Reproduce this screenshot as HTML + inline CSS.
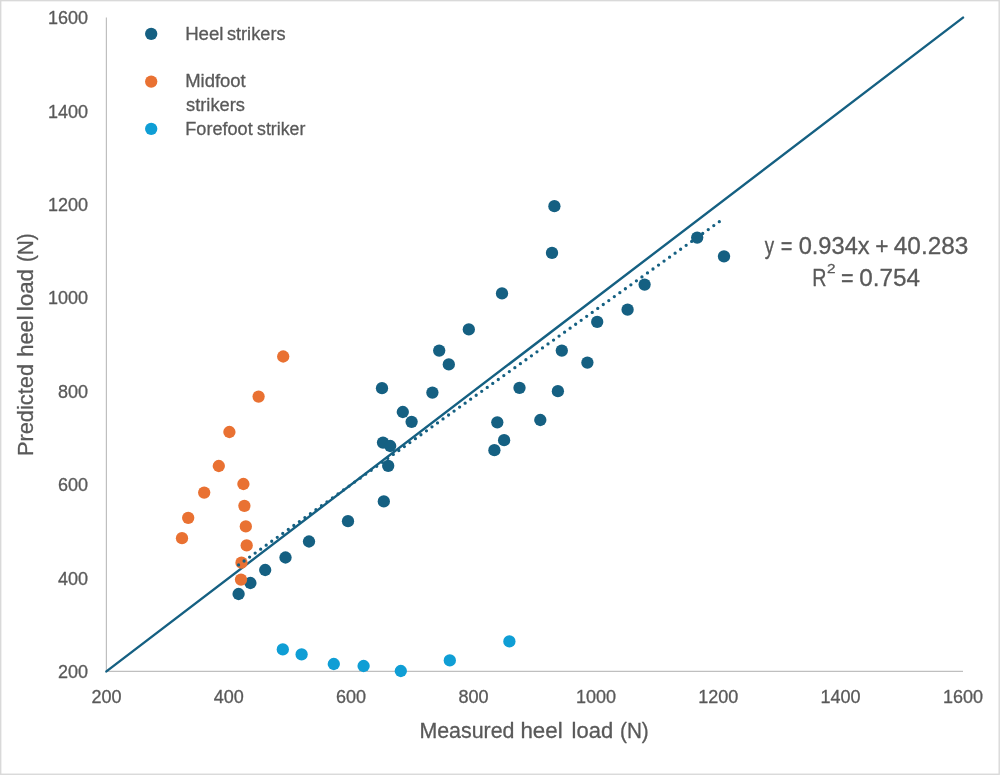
<!DOCTYPE html>
<html lang="en">
<head>
<meta charset="utf-8">
<title>Predicted vs measured heel load</title>
<style>
html,body{margin:0;padding:0;background:#fff;}
body{width:1000px;height:775px;overflow:hidden;}
svg{display:block;}
text{font-family:"Liberation Sans",sans-serif;fill:#595959;stroke:#595959;stroke-width:0.3px;stroke-linejoin:round;}
.tick{font-size:18px;}
.leg{font-size:18.7px;}
.ttl{font-size:21.6px;}
.eq{font-size:24.4px;}
</style>
</head>
<body>
<svg width="1000" height="775" viewBox="0 0 1000 775">
<rect x="0" y="0" width="1000" height="775" fill="#ffffff"/>
<rect x="0.7" y="0.65" width="998.5" height="773.6" fill="none" stroke="#D9D9D9" stroke-width="1.4"/>

<line x1="106.4" y1="17.6" x2="106.4" y2="671.4" stroke="#BFBFBF" stroke-width="1.2"/>
<line x1="106.4" y1="671.4" x2="963.0" y2="671.4" stroke="#BFBFBF" stroke-width="1.2"/>
<text class="tick" x="88.0" y="677.9" text-anchor="end">200</text>
<text class="tick" x="88.0" y="584.5" text-anchor="end">400</text>
<text class="tick" x="88.0" y="491.1" text-anchor="end">600</text>
<text class="tick" x="88.0" y="397.7" text-anchor="end">800</text>
<text class="tick" x="88.0" y="304.3" text-anchor="end">1000</text>
<text class="tick" x="88.0" y="210.9" text-anchor="end">1200</text>
<text class="tick" x="88.0" y="117.5" text-anchor="end">1400</text>
<text class="tick" x="88.0" y="24.1" text-anchor="end">1600</text>
<text class="tick" x="106.4" y="703.4" text-anchor="middle">200</text>
<text class="tick" x="228.8" y="703.4" text-anchor="middle">400</text>
<text class="tick" x="351.1" y="703.4" text-anchor="middle">600</text>
<text class="tick" x="473.5" y="703.4" text-anchor="middle">800</text>
<text class="tick" x="595.9" y="703.4" text-anchor="middle">1000</text>
<text class="tick" x="718.3" y="703.4" text-anchor="middle">1200</text>
<text class="tick" x="840.6" y="703.4" text-anchor="middle">1400</text>
<text class="tick" x="963.0" y="703.4" text-anchor="middle">1600</text>
<line x1="106.4" y1="671.4" x2="963.0" y2="17.6" stroke="#156082" stroke-width="2.4" stroke-linecap="round"/>
<g id="heel"><circle cx="238.6" cy="594.0" r="6.15" fill="#156082"/>
<circle cx="250.4" cy="583.0" r="6.15" fill="#156082"/>
<circle cx="265.2" cy="570.0" r="6.15" fill="#156082"/>
<circle cx="285.5" cy="557.5" r="6.15" fill="#156082"/>
<circle cx="309.0" cy="541.5" r="6.15" fill="#156082"/>
<circle cx="348.0" cy="521.2" r="6.15" fill="#156082"/>
<circle cx="383.8" cy="501.4" r="6.15" fill="#156082"/>
<circle cx="388.2" cy="465.8" r="6.15" fill="#156082"/>
<circle cx="383.0" cy="442.6" r="6.15" fill="#156082"/>
<circle cx="390.2" cy="446.0" r="6.15" fill="#156082"/>
<circle cx="382.0" cy="388.2" r="6.15" fill="#156082"/>
<circle cx="402.8" cy="412.0" r="6.15" fill="#156082"/>
<circle cx="411.6" cy="421.8" r="6.15" fill="#156082"/>
<circle cx="432.4" cy="392.6" r="6.15" fill="#156082"/>
<circle cx="439.2" cy="350.6" r="6.15" fill="#156082"/>
<circle cx="448.8" cy="364.4" r="6.15" fill="#156082"/>
<circle cx="468.8" cy="329.4" r="6.15" fill="#156082"/>
<circle cx="502.0" cy="293.4" r="6.15" fill="#156082"/>
<circle cx="552.0" cy="252.8" r="6.15" fill="#156082"/>
<circle cx="554.4" cy="206.2" r="6.15" fill="#156082"/>
<circle cx="494.4" cy="450.2" r="6.15" fill="#156082"/>
<circle cx="497.3" cy="422.3" r="6.15" fill="#156082"/>
<circle cx="504.1" cy="440.2" r="6.15" fill="#156082"/>
<circle cx="519.5" cy="387.8" r="6.15" fill="#156082"/>
<circle cx="540.3" cy="420.0" r="6.15" fill="#156082"/>
<circle cx="557.9" cy="391.2" r="6.15" fill="#156082"/>
<circle cx="561.8" cy="350.6" r="6.15" fill="#156082"/>
<circle cx="587.4" cy="362.6" r="6.15" fill="#156082"/>
<circle cx="597.2" cy="321.9" r="6.15" fill="#156082"/>
<circle cx="627.6" cy="309.7" r="6.15" fill="#156082"/>
<circle cx="644.6" cy="284.6" r="6.15" fill="#156082"/>
<circle cx="697.2" cy="237.6" r="6.15" fill="#156082"/>
<circle cx="724.0" cy="256.4" r="6.15" fill="#156082"/></g>
<g id="midfoot"><circle cx="283.2" cy="356.5" r="6.15" fill="#E97132"/>
<circle cx="258.6" cy="396.6" r="6.15" fill="#E97132"/>
<circle cx="229.4" cy="432.0" r="6.15" fill="#E97132"/>
<circle cx="218.8" cy="466.0" r="6.15" fill="#E97132"/>
<circle cx="204.2" cy="492.6" r="6.15" fill="#E97132"/>
<circle cx="188.2" cy="517.8" r="6.15" fill="#E97132"/>
<circle cx="182.0" cy="538.2" r="6.15" fill="#E97132"/>
<circle cx="243.4" cy="484.0" r="6.15" fill="#E97132"/>
<circle cx="244.4" cy="505.8" r="6.15" fill="#E97132"/>
<circle cx="245.8" cy="526.4" r="6.15" fill="#E97132"/>
<circle cx="246.7" cy="545.4" r="6.15" fill="#E97132"/>
<circle cx="241.5" cy="562.7" r="6.15" fill="#E97132"/>
<circle cx="241.0" cy="579.6" r="6.15" fill="#E97132"/></g>
<g id="forefoot"><circle cx="282.8" cy="649.4" r="6.15" fill="#0F9ED5"/>
<circle cx="301.6" cy="654.4" r="6.15" fill="#0F9ED5"/>
<circle cx="333.8" cy="664.0" r="6.15" fill="#0F9ED5"/>
<circle cx="363.6" cy="666.0" r="6.15" fill="#0F9ED5"/>
<circle cx="400.8" cy="671.0" r="6.15" fill="#0F9ED5"/>
<circle cx="449.8" cy="660.4" r="6.15" fill="#0F9ED5"/>
<circle cx="509.4" cy="641.4" r="6.15" fill="#0F9ED5"/></g>
<line x1="238.58" y1="564.95" x2="719.71" y2="221.36" stroke="#156082" stroke-width="3.3" stroke-linecap="round" stroke-dasharray="0 6.7899"/>
<circle cx="151.2" cy="33.8" r="6.15" fill="#156082"/>
<circle cx="151.2" cy="81.6" r="6.15" fill="#E97132"/>
<circle cx="151.2" cy="128.8" r="6.15" fill="#0F9ED5"/>
<text class="leg" y="40.0" xml:space="preserve"><tspan x="185.14" textLength="38.39" lengthAdjust="spacingAndGlyphs">Heel</tspan> <tspan x="226.92" textLength="58.65" lengthAdjust="spacingAndGlyphs">strikers</tspan></text>
<text class="leg" y="87.4" xml:space="preserve"><tspan x="185.16" textLength="60.58" lengthAdjust="spacingAndGlyphs">Midfoot</tspan></text>
<text class="leg" y="111.4" xml:space="preserve"><tspan x="186.01" textLength="58.96" lengthAdjust="spacingAndGlyphs">strikers</tspan></text>
<text class="leg" y="134.5" xml:space="preserve"><tspan x="185.28" textLength="67.45" lengthAdjust="spacingAndGlyphs">Forefoot</tspan> <tspan x="257.02" textLength="48.36" lengthAdjust="spacingAndGlyphs">striker</tspan></text>
<text class="ttl" y="737.5" xml:space="preserve"><tspan x="419.38" textLength="95.12" lengthAdjust="spacingAndGlyphs">Measured</tspan> <tspan x="520.45" textLength="42.22" lengthAdjust="spacingAndGlyphs">heel</tspan> <tspan x="571.63" textLength="41.50" lengthAdjust="spacingAndGlyphs">load</tspan> <tspan x="620.03" textLength="28.74" lengthAdjust="spacingAndGlyphs">(N)</tspan></text>
<text class="ttl" transform="rotate(-90)" y="33.3" xml:space="preserve"><tspan x="-456.10" textLength="92.13" lengthAdjust="spacingAndGlyphs">Predicted</tspan> <tspan x="-356.77" textLength="41.41" lengthAdjust="spacingAndGlyphs">heel</tspan> <tspan x="-311.30" textLength="42.36" lengthAdjust="spacingAndGlyphs">load</tspan> <tspan x="-262.07" textLength="28.74" lengthAdjust="spacingAndGlyphs">(N)</tspan></text>
<text class="eq" y="253.8" xml:space="preserve"><tspan x="764.80" textLength="9.40" lengthAdjust="spacingAndGlyphs">y</tspan> <tspan x="780.66" textLength="11.68" lengthAdjust="spacingAndGlyphs">=</tspan> <tspan x="798.66" textLength="70.94" lengthAdjust="spacingAndGlyphs">0.934x</tspan> <tspan x="875.13" textLength="13.31" lengthAdjust="spacingAndGlyphs">+</tspan> <tspan x="893.82" textLength="74.57" lengthAdjust="spacingAndGlyphs">40.283</tspan></text>
<text class="eq" y="285.9" xml:space="preserve"><tspan x="812.36" textLength="14.22" lengthAdjust="spacingAndGlyphs">R</tspan><tspan x="826.98" y="273.0" font-size="13.7" textLength="8.54" lengthAdjust="spacingAndGlyphs">2</tspan> <tspan x="840.89" y="285.9" textLength="12.61" lengthAdjust="spacingAndGlyphs">=</tspan> <tspan x="859.24" textLength="60.76" lengthAdjust="spacingAndGlyphs">0.754</tspan></text>
</svg>
</body>
</html>
